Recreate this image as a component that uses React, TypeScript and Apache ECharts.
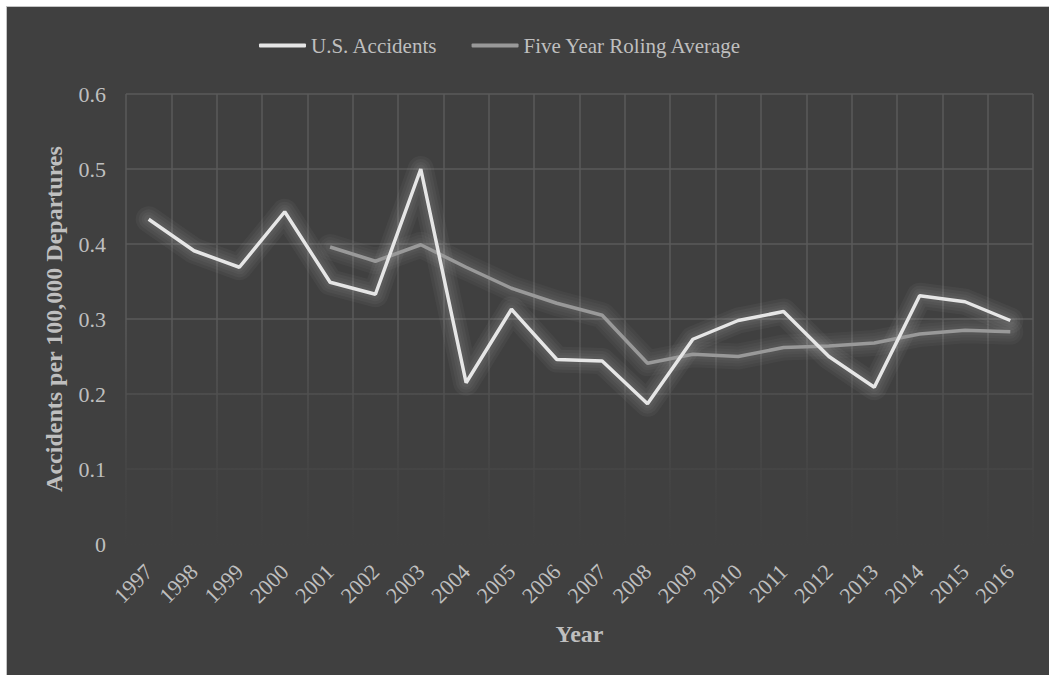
import React, { useEffect, useRef } from "react";
import * as echarts from "echarts";

const years = ["1997","1998","1999","2000","2001","2002","2003","2004","2005","2006","2007","2008","2009","2010","2011","2012","2013","2014","2015","2016"];
const usAccidents = [0.433, 0.391, 0.369, 0.443, 0.349, 0.333, 0.500, 0.215, 0.313, 0.246, 0.244, 0.187, 0.273, 0.298, 0.310, 0.250, 0.209, 0.331, 0.323, 0.298];
const rollingAvg = [null, null, null, null, 0.396, 0.377, 0.399, 0.369, 0.341, 0.321, 0.305, 0.241, 0.253, 0.250, 0.262, 0.264, 0.268, 0.280, 0.285, 0.283];
const yTicks = { min: 0, max: 0.6, interval: 0.1 };

const FONT = "'Liberation Serif', 'Times New Roman', serif";
const TXT = "#bfbfbf";

function glowLayers(data: (number | null)[], alpha: number) {
  return [26, 20, 14, 9].map((w) => ({
    type: "line",
    data,
    symbol: "none",
    silent: true,
    z: 2,
    legendHoverLink: false,
    tooltip: { show: false },
    lineStyle: { color: `rgba(255,255,255,${alpha})`, width: w, cap: "round", join: "round" },
  }));
}

export default function App() {
  const ref = useRef<HTMLDivElement>(null);
  useEffect(() => {
    if (!ref.current) return;
    const chart = echarts.init(ref.current, undefined, { renderer: "svg" });
    chart.setOption({
      animation: false,
      backgroundColor: "#404040",
      textStyle: { fontFamily: FONT },
      legend: {
        left: 247,
        top: 23,
        itemWidth: 47,
        itemHeight: 4,
        itemGap: 34,
        icon: "roundRect",
        textStyle: { color: TXT, fontSize: 21, fontFamily: FONT },
        data: ["U.S. Accidents", "Five Year Roling Average"],
      },
      grid: { left: 119, right: 16, top: 87, bottom: 131, containLabel: false },
      xAxis: {
        type: "category",
        data: years,
        boundaryGap: true,
        name: "Year",
        nameLocation: "middle",
        nameGap: 78,
        nameTextStyle: { color: TXT, fontSize: 24, fontWeight: "bold", fontFamily: FONT, verticalAlign: "top" },
        axisLine: { show: false },
        axisTick: { show: false },
        axisLabel: { color: TXT, fontSize: 22, fontFamily: FONT, rotate: 45, margin: 24, interval: 0 },
        splitLine: { show: true, interval: 0, lineStyle: { color: "#5a5a5a", width: 1.5 } },
      },
      yAxis: {
        type: "value",
        min: yTicks.min,
        max: yTicks.max,
        interval: yTicks.interval,
        name: "Accidents per 100,000 Departures",
        nameLocation: "middle",
        nameGap: 60,
        nameTextStyle: { color: TXT, fontSize: 24, fontWeight: "bold", fontFamily: FONT },
        axisLine: { show: false },
        axisTick: { show: false },
        axisLabel: { color: TXT, fontSize: 22, fontFamily: FONT, margin: 20, formatter: (v: number) => String(+v.toFixed(1)) },
        splitLine: { show: true, lineStyle: { color: "#5a5a5a", width: 1.5 } },
      },
      series: [
        ...glowLayers(rollingAvg, 0.03),
        ...glowLayers(usAccidents, 0.04),
        {
          name: "U.S. Accidents",
          type: "line",
          data: usAccidents,
          symbol: "none",
          z: 4,
          itemStyle: { color: "#e6e6e6" },
          lineStyle: { color: "#e6e6e6", width: 3.5 },
        },
        {
          name: "Five Year Roling Average",
          type: "line",
          data: rollingAvg,
          symbol: "none",
          z: 3,
          itemStyle: { color: "#999999" },
          lineStyle: { color: "#999999", width: 3.5 },
        },
      ],
    });
    const p0 = chart.convertToPixel({ gridIndex: 0 }, [0, 0.3]) as number[];
    const p1 = chart.convertToPixel({ gridIndex: 0 }, [years.length - 1, 0]) as number[];
    const gridLeft = 119;
    const gridRight = ref.current.clientWidth - 16;
    chart.setOption({
      graphic: [
        {
          type: "rect",
          z: 1,
          silent: true,
          shape: { x: gridLeft - 2, y: p0[1], width: gridRight - gridLeft + 4, height: p1[1] - p0[1] + 3 },
          style: {
            fill: new echarts.graphic.LinearGradient(0, 0, 0, 1, [
              { offset: 0, color: "rgba(64,64,64,0)" },
              { offset: 0.75, color: "rgba(64,64,64,0.85)" },
              { offset: 1, color: "rgba(64,64,64,1)" },
            ]),
          },
        },
      ],
    });
    return () => chart.dispose();
  }, []);
  return (
    <div
      style={{
        position: "fixed",
        left: 6,
        top: 6,
        width: 1043,
        height: 669,
        boxSizing: "border-box",
        borderLeft: "1px solid #c4c4c4",
        borderTop: "1px solid #c4c4c4",
        background: "#404040",
      }}
    >
      <div ref={ref} style={{ width: 1042, height: 668 }} />
    </div>
  );
}
